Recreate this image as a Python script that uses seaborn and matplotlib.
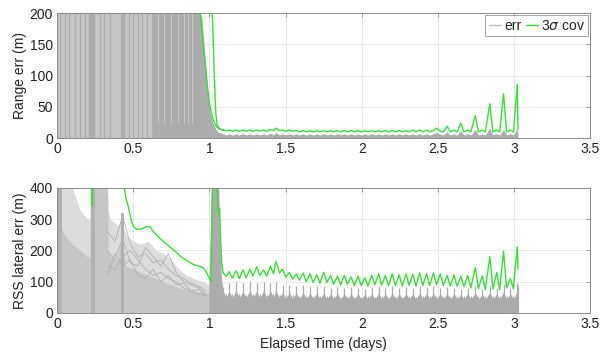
import numpy as np
import pandas as pd
import seaborn as sns
import matplotlib
matplotlib.use("Agg")
import matplotlib.pyplot as plt

# ---------------- data ----------------
# time grid after filter convergence (days)
t_cov = [1.09, 1.11, 1.13, 1.15, 1.175, 1.195, 1.22, 1.24, 1.265, 1.285,
         1.31, 1.33, 1.355, 1.375, 1.40, 1.42, 1.435, 1.46, 1.48, 1.50,
         1.525, 1.545, 1.57, 1.59, 1.615, 1.635, 1.66, 1.68, 1.705, 1.725,
         1.75, 1.77, 1.795, 1.815, 1.84, 1.86, 1.885, 1.905, 1.93, 1.95,
         1.975, 1.995, 2.02, 2.04, 2.065, 2.085, 2.11, 2.13, 2.155, 2.175,
         2.20, 2.22, 2.245, 2.265, 2.29, 2.31, 2.335, 2.355, 2.38, 2.40,
         2.425, 2.445, 2.47, 2.49, 2.515, 2.535, 2.56, 2.58, 2.605, 2.625,
         2.65, 2.67, 2.695, 2.715, 2.745, 2.765, 2.79, 2.81, 2.84, 2.86,
         2.885, 2.905, 2.93, 2.95, 2.975, 2.995, 3.02, 3.025]

# 3-sigma covariance, range (m)
cov_range = [13, 12, 13, 11, 13, 11, 13, 11, 13, 11,
             13, 11, 13, 11, 14, 12, 16, 12, 13, 11,
             13, 11, 12, 10, 12, 10, 12, 10, 12, 10,
             12, 10, 12, 10, 12, 10, 12, 10, 12, 10,
             12, 10, 12, 10, 12, 10, 12, 10, 12, 10,
             12, 10, 12, 10, 12, 10, 13, 10, 13, 10,
             13, 10, 12, 16, 11, 10, 19, 10, 13, 10,
             24, 10, 13, 10, 36, 10, 13, 10, 55, 10,
             13, 10, 71, 10, 13, 10, 86, 14]
# 3-sigma covariance, RSS lateral (m)
cov_lat = [128, 117, 132, 112, 135, 110, 138, 112, 140, 118,
           148, 120, 138, 118, 150, 125, 165, 128, 140, 115,
           130, 108, 125, 105, 128, 100, 125, 98, 122, 95,
           130, 98, 120, 92, 118, 90, 120, 92, 115, 88,
           118, 88, 112, 86, 120, 90, 125, 90, 120, 88,
           125, 88, 122, 86, 125, 88, 124, 86, 128, 88,
           126, 88, 128, 90, 125, 88, 120, 86, 122, 85,
           118, 84, 120, 80, 145, 78, 118, 75, 180, 76,
           130, 74, 197, 80, 110, 78, 212, 140]
# upper edge of the Monte-Carlo range error bundle after convergence
err_range_hi = [7, 5, 7, 5, 7, 5, 7, 5, 7, 5,
                7, 5, 7, 5, 8, 5, 9, 5, 7, 5,
                7, 5, 7, 5, 7, 5, 7, 5, 7, 5,
                7, 5, 7, 5, 7, 5, 7, 5, 7, 5,
                7, 5, 7, 5, 7, 5, 7, 5, 7, 5,
                7, 5, 7, 5, 7, 5, 7, 5, 7, 5,
                7, 5, 7, 9, 6, 5, 10, 5, 7, 5,
                12, 5, 7, 5, 14, 5, 7, 5, 16, 5,
                7, 5, 14, 5, 7, 5, 15, 8]
# ragged upper edge of the lateral error bundle after convergence
err_lat_env = [70, 50, 70, 48, 72, 48, 70, 48, 72, 50,
               70, 48, 72, 48, 70, 50, 72, 48, 66, 46,
               66, 46, 64, 45, 66, 45, 64, 45, 64, 44,
               64, 45, 62, 44, 63, 44, 62, 44, 63, 44,
               62, 44, 60, 44, 63, 44, 64, 44, 62, 44,
               64, 44, 62, 44, 63, 44, 62, 44, 64, 44,
               63, 44, 64, 45, 62, 44, 63, 44, 62, 44,
               60, 44, 62, 44, 64, 44, 60, 44, 66, 44,
               62, 44, 68, 45, 62, 44, 70, 70]
# thin spike heights of that bundle
err_lat_spk = [80, 60, 95, 62, 100, 60, 95, 58, 100, 62,
               95, 60, 100, 58, 95, 62, 100, 58, 90, 56,
               90, 56, 85, 54, 90, 54, 85, 53, 85, 53,
               85, 54, 80, 53, 82, 52, 80, 53, 82, 52,
               80, 52, 78, 53, 82, 52, 85, 53, 80, 52,
               85, 53, 80, 52, 82, 53, 80, 52, 85, 53,
               82, 53, 85, 54, 80, 53, 82, 53, 80, 53,
               78, 53, 80, 53, 85, 53, 78, 53, 90, 53,
               80, 53, 92, 54, 80, 53, 95, 90]

# early (pre-convergence) range error bundle
t_rng_pre = [0.0, 0.90, 0.93, 0.95, 0.97, 0.99, 1.00, 1.02, 1.04, 1.06, 1.09]
err_rng_pre_hi = [210, 210, 210, 190, 130, 70, 45, 25, 14, 9, 7]
# dense (darker) part of the early range bundle
t_rng_dense = [0.62, 0.90, 0.93, 0.95, 0.97, 0.99, 1.00, 1.02, 1.04, 1.06, 1.09]
err_rng_dense = [210, 210, 210, 190, 130, 70, 45, 25, 14, 9, 7]
# individual darker streaks in the early range bundle (days)
streak_t = [0.02, 0.05, 0.08, 0.12, 0.15, 0.18, 0.21, 0.215, 0.22, 0.225, 0.23,
            0.235, 0.24, 0.28, 0.31, 0.35, 0.42, 0.425, 0.43, 0.435, 0.44,
            0.47, 0.50, 0.53, 0.56, 0.59]
# lighter gaps inside the dense zone (days)
gap_t = [0.66, 0.70, 0.745, 0.79, 0.83, 0.86, 0.885]

# early 3-sigma range covariance (two branches)
t_cov_rng_a = [0.935, 0.95, 0.97, 0.99, 1.00, 1.02, 1.04, 1.06, 1.09]
cov_rng_a = [210, 170, 120, 75, 55, 32, 20, 15, 13]
t_cov_rng_b = [1.015, 1.02, 1.03, 1.04, 1.05, 1.07, 1.09]
cov_rng_b = [210, 190, 110, 45, 20, 14, 13]

# early RSS lateral error bundle
t_lat_pre = [0.0, 0.05, 0.10, 0.15, 0.20, 0.215, 0.22, 0.33, 0.335, 0.35, 0.40,
             0.42, 0.45, 0.50, 0.55, 0.60, 0.65, 0.70, 0.75, 0.80, 0.85,
             0.90, 0.95, 1.00]
err_lat_light = [420, 420, 400, 330, 300, 300, 420, 420, 330, 300, 280,
                 300, 250, 230, 220, 230, 200, 190, 170, 140, 120,
                 110, 100, 90]
err_lat_core = [300, 250, 220, 200, 180, 180, 420, 420, 200, 180, 170,
                250, 150, 140, 130, 120, 110, 100, 90, 80, 75,
                70, 65, 60]
# dense vertical columns in the early lateral bundle (start, end, top)
col_start = [0.0, 0.22, 0.42]
col_end = [0.03, 0.25, 0.44]
col_top = [420, 420, 320]
t_lat_spike = [0.995, 1.005, 1.015, 1.06, 1.07, 1.08, 1.09]
err_lat_spike = [60, 250, 420, 420, 200, 100, 80]

# a few individual lateral-error traces visible in the early bundle
t_trace = [0.33, 0.38, 0.43, 0.48, 0.53, 0.58, 0.63, 0.68, 0.73, 0.78, 0.83, 0.88, 0.93, 0.98]
trace_1 = [260, 230, 310, 220, 180, 190, 160, 170, 140, 120, 110, 95, 85, 70]
trace_2 = [200, 170, 240, 160, 150, 210, 180, 150, 190, 130, 100, 90, 80, 60]
trace_3 = [150, 140, 180, 200, 170, 140, 120, 130, 110, 100, 80, 70, 60, 55]
trace_4 = [120, 190, 150, 170, 120, 110, 140, 100, 120, 90, 95, 70, 75, 50]

# early 3-sigma lateral covariance
t_cov_lat_s = [0.224, 0.228, 0.232]
cov_lat_s = [420, 342, 420]
t_cov_lat_pre = [0.434, 0.45, 0.467, 0.485, 0.50, 0.52, 0.55, 0.59, 0.61, 0.63,
                 0.66, 0.72, 0.78, 0.81, 0.85, 0.895, 0.93, 0.96, 0.98, 1.00,
                 1.01, 1.015, 1.02, 1.05, 1.055, 1.062, 1.066, 1.072, 1.08, 1.09]
cov_lat_pre = [420, 370, 341, 300, 277, 268, 268, 277, 275, 261,
               245, 219, 195, 181, 168, 155, 150, 144, 130, 110,
               101, 300, 420, 420, 330, 310, 335, 250, 160, 128]

x_ticks = [0, 0.5, 1, 1.5, 2, 2.5, 3, 3.5]
y_ticks_rng = [0, 50, 100, 150, 200]
y_ticks_lat = [0, 100, 200, 300, 400]

# ---------------- styling ----------------
sns.set_theme(style="whitegrid")
plt.rcParams['font.family'] = ['Liberation Sans', 'DejaVu Sans']
plt.rcParams['mathtext.fontset'] = 'dejavusans'

GRAY = '#acacac'
MID = '#c6c6c6'
LIGHT = '#dcdcdc'
DARK = '#b0b0b0'
GREEN = '#38de38'

fig = plt.figure(figsize=(6.08, 3.56), dpi=100)
ax1 = fig.add_axes([0.094, 0.612, 0.877, 0.351])
ax2 = fig.add_axes([0.094, 0.121, 0.877, 0.351])


def style(ax, yt, ylim):
    ax.set_xlim(0, 3.5)
    ax.set_ylim(*ylim)
    ax.set_xticks(x_ticks)
    ax.set_xticklabels([f"{v:g}" for v in x_ticks])
    ax.set_yticks(yt)
    ax.grid(True, color='#e4e4e4', lw=0.6)
    ax.set_facecolor('white')
    for s in ax.spines.values():
        s.set_color('#8c8c8c')
        s.set_linewidth(0.7)
    ax.tick_params(direction='in', length=3, width=0.6, color='#8c8c8c',
                   top=True, right=True, labelsize=10, pad=3, labelcolor='#222222')
    ax.set_axisbelow(True)


# ---- top: range error ----
ax1.fill_between(t_rng_pre, 0, err_rng_pre_hi, color=MID, lw=0)
ax1.fill_between(t_rng_dense, 0, err_rng_dense, color=GRAY, lw=0)
ax1.vlines(streak_t, 0, 210, color=GRAY, lw=0.9)
ax1.vlines(gap_t, 25, 210, color='#c8c8c8', lw=0.7)
ax1.fill_between(t_cov, 0, err_range_hi, color=GRAY, lw=0)
sns.lineplot(x=t_cov_rng_a, y=cov_rng_a, ax=ax1, color=GREEN, lw=1.0, sort=False, estimator=None)
sns.lineplot(x=t_cov_rng_b, y=cov_rng_b, ax=ax1, color=GREEN, lw=1.0, sort=False, estimator=None)
sns.lineplot(x=t_cov, y=cov_range, ax=ax1, color=GREEN, lw=1.0, sort=False, estimator=None)
style(ax1, y_ticks_rng, (0, 200))
ax1.set_xlabel('')
ax1.set_ylabel('Range err (m)', fontsize=10, labelpad=2)

h1, = ax1.plot([], [], color='#bdbdbd', lw=1.0)
h2, = ax1.plot([], [], color=GREEN, lw=1.0)
leg = ax1.legend([h1, h2], ['err', r'3$\sigma$ cov'], loc='upper right', ncol=2,
                 fontsize=10, handlelength=0.9, handletextpad=0.2, columnspacing=0.3,
                 borderpad=0.25, borderaxespad=0.15, frameon=True, fancybox=False)
leg.get_frame().set_edgecolor('#8c8c8c')
leg.get_frame().set_linewidth(0.7)

# ---- bottom: RSS lateral error ----
ax2.fill_between(t_lat_pre, 0, err_lat_light, color=LIGHT, lw=0)
ax2.fill_between(t_lat_pre, 0, err_lat_core, color=MID, lw=0)
for a, b, h in zip(col_start, col_end, col_top):
    ax2.fill_between([a, b], 0, [h, h], color=DARK, lw=0)
for tr in (trace_1, trace_2, trace_3, trace_4):
    sns.lineplot(x=t_trace, y=tr, ax=ax2, color=DARK, lw=0.6, sort=False, estimator=None)
ax2.fill_between(t_lat_spike, 0, err_lat_spike, color=GRAY, lw=0)
ax2.fill_between(t_cov, 0, err_lat_env, color=GRAY, lw=0)
ax2.vlines(t_cov, 0, err_lat_spk, color=GRAY, lw=0.9)
sns.lineplot(x=t_cov_lat_s, y=cov_lat_s, ax=ax2, color=GREEN, lw=1.0, sort=False, estimator=None)
sns.lineplot(x=t_cov_lat_pre, y=cov_lat_pre, ax=ax2, color=GREEN, lw=1.0, sort=False, estimator=None)
sns.lineplot(x=t_cov, y=cov_lat, ax=ax2, color=GREEN, lw=1.0, sort=False, estimator=None)
style(ax2, y_ticks_lat, (0, 400))
ax2.set_ylabel('RSS lateral err (m)', fontsize=10, labelpad=2)
ax2.set_xlabel('Elapsed Time (days)', fontsize=10, labelpad=4)

fig.savefig('out.png', dpi=100)
